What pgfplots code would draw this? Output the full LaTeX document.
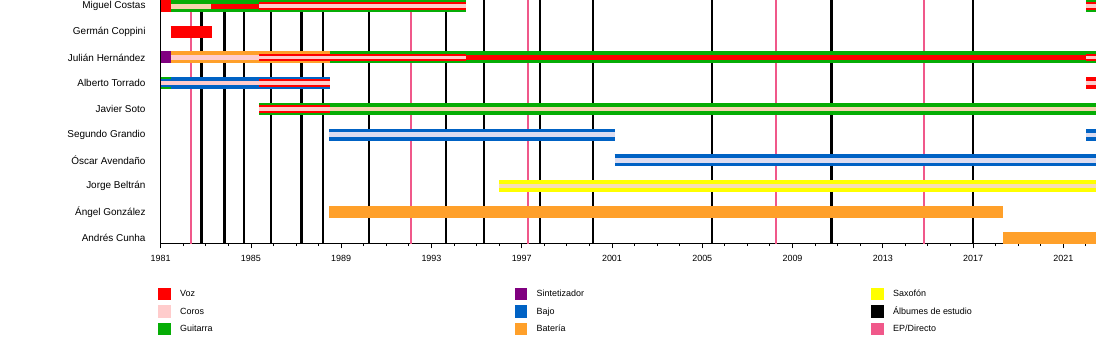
\documentclass[border=0pt]{standalone}
\usepackage{fontspec}
\setmainfont{Liberation Sans}
\usepackage{pgfplots}
\pgfplotsset{compat=1.18}
\definecolor{voz}{HTML}{FF0000}
\definecolor{coros}{HTML}{FFCCCC}
\definecolor{guit}{HTML}{06AD06}
\definecolor{sint}{HTML}{800080}
\definecolor{bajo}{HTML}{0062C4}
\definecolor{bat}{HTML}{FFA02A}
\definecolor{sax}{HTML}{FFFF00}
\definecolor{ep}{HTML}{F0588A}
\definecolor{beige}{HTML}{F6D4B0}
\definecolor{lav}{HTML}{DCDCF0}
\definecolor{sxb}{HTML}{F7DDB5}
% colour, width (bp), start, end, row
\newcommand{\seg}[5]{\addplot[draw=#1, line width=#2bp, forget plot] coordinates {(#3,#5) (#4,#5)};}
\newcommand{\vl}[2]{\addplot[draw=#1, line width=2.8bp, forget plot] coordinates {(#2,0.7) (#2,10.3)};}
\newcommand{\leg}[2]{\addlegendimage{fill=#1}\addlegendentry{\makebox[334.5bp][l]{#2}}}
\begin{document}
\begin{tikzpicture}
\useasboundingbox (0,0) rectangle (1100bp,-363bp);
\begin{axis}[
  at={(160.7bp,-243.3bp)}, anchor=south west,
  scale only axis, width=935.3bp, height=243.3bp,
  xmin=1981, xmax=2022.45, ymin=0.7745, ymax=10.234,
  axis x line*=bottom, axis y line*=left,
  axis line style={-, line width=0.8bp, black},
  xtick={1981,1985,1989,1993,1997,2001,2005,2009,2013,2017,2021},
  xticklabels={1981,1985,1989,1993,1997,2001,2005,2009,2013,2017,2021},
  minor xtick={1981,...,2022},
  tick align=outside,
  major tick length=5bp, minor tick length=2.7bp,
  tick style={black, line width=0.8bp},
  ytick={1,...,10},
  yticklabels={Andrés Cunha, Ángel González, Jorge Beltrán, Óscar Avendaño, Segundo Grandio, Javier Soto, Alberto Torrado, Julián Hernández, Germán Coppini, Miguel Costas},
  ytick style={draw=none},
  yticklabel style={font=\fontsize{10}{12}\selectfont, inner sep=0pt, xshift=-10bp},
  xticklabel style={font=\fontsize{9}{11}\selectfont, inner sep=0pt, yshift=-6.5bp},
  legend columns=3,
  legend image code/.code={\fill[#1, draw=none] (0bp,-6bp) rectangle (12.5bp,6.5bp);},
  legend style={draw=none, fill=none, at={(0,0)}, anchor=north west, xshift=-5.7bp, yshift=-42.2bp,
    font=\fontsize{9}{11}\selectfont, row sep=5bp,
    nodes={inner sep=0pt, anchor=west},
    /tikz/every odd column/.append style={column sep=9.5bp}},
]
% studio albums and EP/live
\vl{black}{1982.82}\vl{black}{1983.81}\vl{black}{1984.69}\vl{black}{1985.89}
\vl{black}{1987.25}\vl{black}{1988.19}\vl{black}{1990.23}\vl{black}{1993.64}
\vl{black}{1995.33}\vl{black}{1997.81}\vl{black}{2000.16}\vl{black}{2005.43}
\vl{black}{2010.71}\vl{black}{2017.0}
\vl{ep}{1982.34}\vl{ep}{1992.09}\vl{ep}{1997.28}\vl{ep}{2008.27}\vl{ep}{2014.83}
% Miguel Costas (10)
\seg{voz}{12}{1981}{1981.44}{10}
\seg{guit}{12}{1981.44}{1983.23}{10}\seg{beige}{5}{1981.44}{1983.23}{10}
\seg{guit}{12}{1983.23}{1985.36}{10}\seg{voz}{5}{1983.23}{1985.36}{10}
\seg{guit}{12}{1985.36}{1994.53}{10}\seg{voz}{7.5}{1985.36}{1994.53}{10}\seg{coros}{3.5}{1985.36}{1994.53}{10}
\seg{guit}{12}{2022.01}{2022.45}{10}\seg{voz}{7.5}{2022.01}{2022.45}{10}\seg{coros}{3.5}{2022.01}{2022.45}{10}
% German Coppini (9)
\seg{voz}{12}{1981.44}{1983.27}{9}
% Julian Hernandez (8)
\seg{sint}{12}{1981}{1981.44}{8}
\seg{bat}{12}{1981.44}{1985.36}{8}\seg{coros}{5}{1981.44}{1985.36}{8}
\seg{bat}{12}{1985.36}{1988.5}{8}\seg{voz}{7.5}{1985.36}{1988.5}{8}\seg{coros}{3.5}{1985.36}{1988.5}{8}
\seg{guit}{12}{1988.5}{1994.53}{8}\seg{voz}{7.5}{1988.5}{1994.53}{8}\seg{coros}{3.5}{1988.5}{1994.53}{8}
\seg{guit}{12}{1994.53}{2022.01}{8}\seg{voz}{5}{1994.53}{2022.01}{8}
\seg{guit}{12}{2022.01}{2022.45}{8}\seg{voz}{7.5}{2022.01}{2022.45}{8}\seg{coros}{3.5}{2022.01}{2022.45}{8}
% Alberto Torrado (7)
\seg{guit}{12}{1981}{1981.44}{7}\seg{bajo}{7.5}{1981}{1981.44}{7}\seg{coros}{3.5}{1981}{1981.44}{7}
\seg{bajo}{12}{1981.44}{1985.36}{7}\seg{coros}{4.5}{1981.44}{1985.36}{7}
\seg{bajo}{12}{1985.36}{1988.5}{7}\seg{voz}{7.5}{1985.36}{1988.5}{7}\seg{coros}{3.5}{1985.36}{1988.5}{7}
\seg{voz}{12}{2022.01}{2022.45}{7}\seg{coros}{4}{2022.01}{2022.45}{7}
% Javier Soto (6)
\seg{guit}{12}{1985.36}{1988.5}{6}\seg{voz}{7.5}{1985.36}{1988.5}{6}\seg{coros}{3.5}{1985.36}{1988.5}{6}
\seg{guit}{12}{1988.5}{2022.45}{6}\seg{beige}{4.5}{1988.5}{2022.45}{6}
% Segundo Grandio (5)
\seg{bajo}{12}{1988.46}{2001.12}{5}\seg{lav}{4.5}{1988.46}{2001.12}{5}
\seg{bajo}{12}{2022.01}{2022.45}{5}\seg{lav}{4}{2022.01}{2022.45}{5}
% Oscar Avendano (4)
\seg{bajo}{12}{2001.12}{2022.45}{4}\seg{lav}{4.5}{2001.12}{2022.45}{4}
% Jorge Beltran (3)
\seg{sax}{12}{1996.0}{2022.45}{3}\seg{sxb}{4.5}{1996.0}{2022.45}{3}
% Angel Gonzalez (2)
\seg{bat}{12}{1988.46}{2018.35}{2}
% Andres Cunha (1)
\seg{bat}{12}{2018.35}{2022.45}{1}
% legend (row-major order)
\leg{voz}{Voz}\leg{sint}{Sintetizador}\leg{sax}{Saxofón}
\leg{coros}{Coros}\leg{bajo}{Bajo}\leg{black}{Álbumes de estudio}
\leg{guit}{Guitarra}\leg{bat}{Batería}\leg{ep}{EP/Directo}
\end{axis}
\end{tikzpicture}
\end{document}
